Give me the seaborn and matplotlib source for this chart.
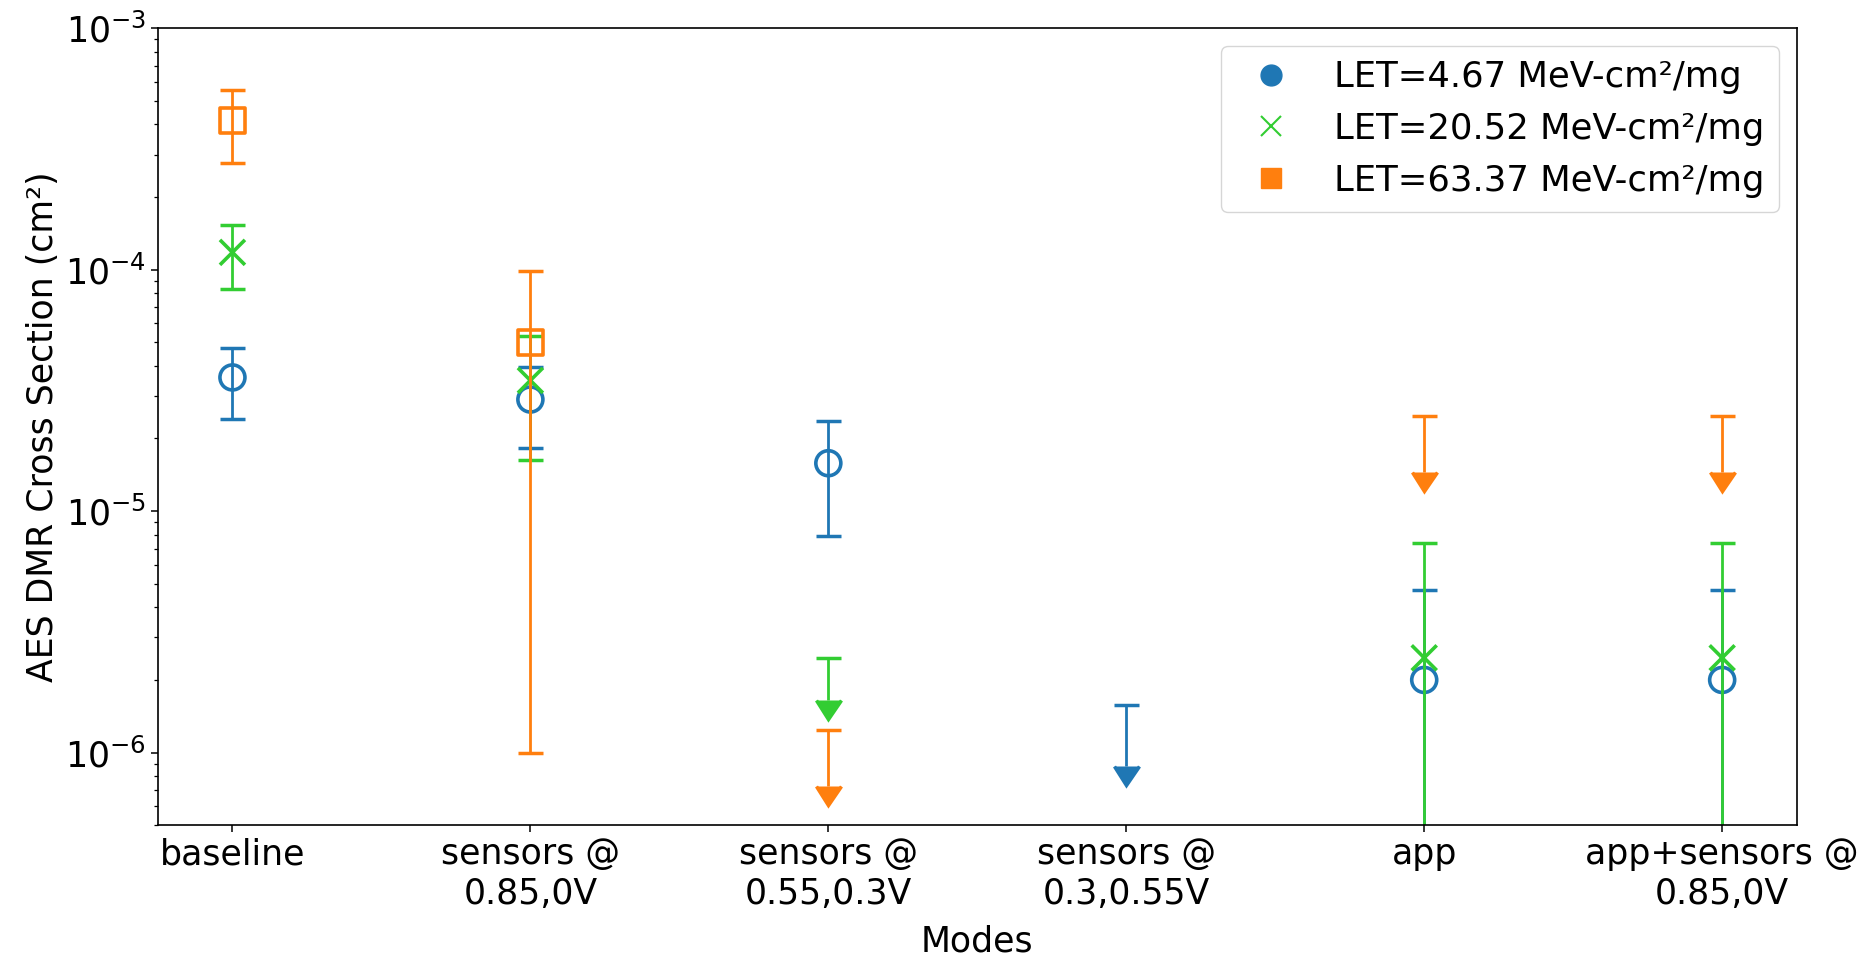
import numpy as np
import pandas as pd
import matplotlib
matplotlib.use("Agg")
import matplotlib.pyplot as plt
from matplotlib.lines import Line2D
import seaborn as sns

# ---------------- data ----------------
modes = ["baseline", "sensors @\n0.85,0V", "sensors @\n0.55,0.3V",
         "sensors @\n0.3,0.55V", "app", "app+sensors @\n0.85,0V"]

let_labels = ["LET=4.67 MeV-cm²/mg", "LET=20.52 MeV-cm²/mg", "LET=63.37 MeV-cm²/mg"]

# measured cross sections (nan = not a measurement at that mode)
xs_467 = [3.58e-5, 2.90e-5, 1.58e-5, np.nan, 2.0e-6, 2.0e-6]
err_467 = [1.17e-5, 1.07e-5, 0.79e-5, np.nan, 2.7e-6, 2.7e-6]
xs_2052 = [1.18e-4, 3.48e-5, np.nan, np.nan, 2.47e-6, 2.47e-6]
err_2052 = [0.345e-4, 1.85e-5, np.nan, np.nan, 4.88e-6, 4.88e-6]
xs_6337 = [4.16e-4, 4.98e-5, np.nan, np.nan, np.nan, np.nan]
err_6337 = [1.40e-4, 4.88e-5, np.nan, np.nan, np.nan, np.nan]

# upper limits (no observed errors)
lim_467 = [np.nan, np.nan, np.nan, 1.58e-6, np.nan, np.nan]
limerr_467 = [np.nan, np.nan, np.nan, 0.70e-6, np.nan, np.nan]
lim_2052 = [np.nan, np.nan, 2.47e-6, np.nan, np.nan, np.nan]
limerr_2052 = [np.nan, np.nan, 0.82e-6, np.nan, np.nan, np.nan]
lim_6337 = [np.nan, np.nan, 1.24e-6, np.nan, 2.48e-5, 2.48e-5]
limerr_6337 = [np.nan, np.nan, 0.51e-6, np.nan, 1.03e-5, 1.03e-5]

colors = ["#1f77b4", "#32cd32", "#ff7f0e"]
markers = ["o", "x", "s"]

# ---------------- style ----------------
sns.set_theme(style="ticks")
plt.rcParams["font.family"] = ["DejaVu Sans"]
plt.rcParams.update({
    "axes.edgecolor": "black", "axes.linewidth": 1.2,
    "xtick.color": "black", "ytick.color": "black",
    "text.color": "black", "axes.labelcolor": "black",
    "xtick.major.size": 5, "ytick.major.size": 5,
    "ytick.minor.size": 3, "xtick.major.width": 1.1,
    "ytick.major.width": 1.1, "ytick.minor.width": 0.9,
    "xtick.direction": "out", "ytick.direction": "out",
})

fig = plt.figure(figsize=(18.76, 9.55), dpi=100)
ax = fig.add_axes([0.0842, 0.1358, 0.8735, 0.8346])

xpos = np.arange(len(modes))
series = [
    (xs_467, err_467, lim_467, limerr_467),
    (xs_2052, err_2052, lim_2052, limerr_2052),
    (xs_6337, err_6337, lim_6337, limerr_6337),
]

for i, (vals, errs, lims, limerrs) in enumerate(series):
    c = colors[i]
    vals = np.array(vals, float); errs = np.array(errs, float)
    lims = np.array(lims, float); limerrs = np.array(limerrs, float)
    m = ~np.isnan(vals)
    df = pd.DataFrame({"x": xpos[m], "y": vals[m]})
    sns.scatterplot(data=df, x="x", y="y", marker=markers[i], s=18**2,
                    color=c, ax=ax, legend=False, zorder=2)
    coll = ax.collections[-1]
    coll.set_facecolor("none")
    coll.set_edgecolor(c)
    coll.set_linewidth(2.6)
    ax.errorbar(xpos[m], vals[m], yerr=errs[m], fmt="none", color=c, ecolor=c,
                elinewidth=2, capsize=9, capthick=2.5)
    ml = ~np.isnan(lims)
    if ml.any():
        ax.errorbar(xpos[ml], lims[ml], yerr=limerrs[ml], uplims=True,
                    fmt="none", color=c, ecolor=c, elinewidth=2, capsize=9,
                    capthick=2.5)

ax.set_yscale("log")
ax.set_ylim(5e-7, 1e-3)
ax.set_xlim(-0.25, len(modes) - 0.75)
ax.set_xticks(xpos)
ax.set_xticklabels(modes, fontsize=25)
ax.tick_params(axis="y", labelsize=25)
ax.set_xlabel("Modes", fontsize=25, labelpad=10)
ax.set_ylabel("AES DMR Cross Section (cm²)", fontsize=25)

handles = [
    Line2D([], [], ls="", marker="o", color=colors[0], ms=15),
    Line2D([], [], ls="", marker="x", color=colors[1], ms=15, mew=1.5),
    Line2D([], [], ls="", marker="s", color=colors[2], ms=14),
]
ax.legend(handles, let_labels, loc="upper right", fontsize=25.5,
          frameon=True, framealpha=0.8, edgecolor="0.8", fancybox=True)

fig.savefig("out.png", dpi=100)
